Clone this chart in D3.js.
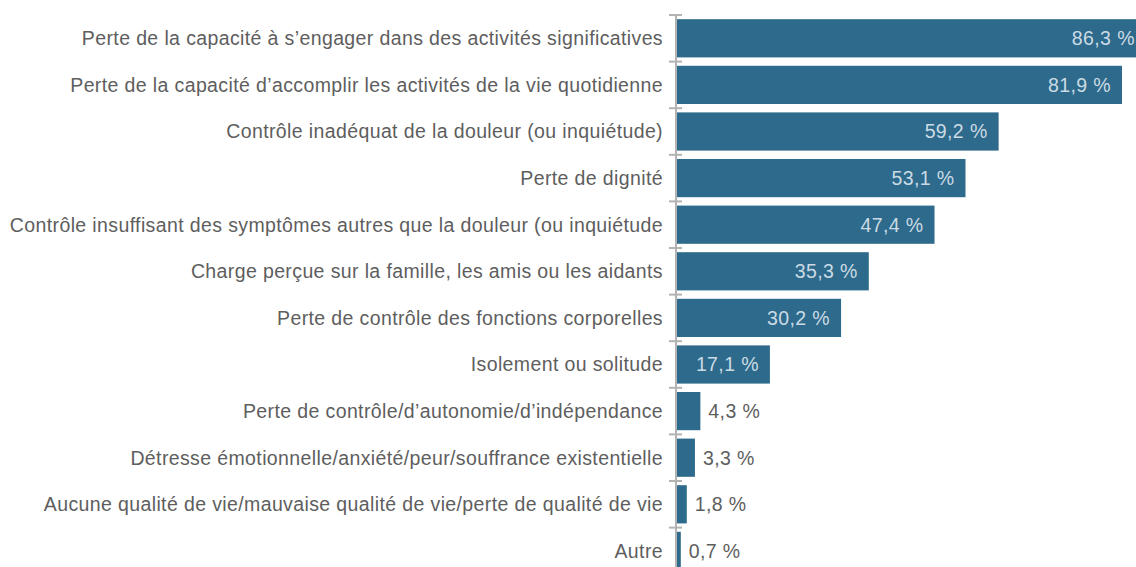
<!DOCTYPE html>
<meta charset="utf-8">
<head>
<style>
  body { margin: 0; background: #fff; }
  svg { display: block; }
  .label, .value { font-family: "Liberation Sans", Arial, sans-serif; font-size: 19.5px; letter-spacing: 0.38px; }
  .label { fill: #5e5e5e; }
</style>
</head>
<body>
<script src="https://d3js.org/d3.v7.min.js"></script>
<script>
// categories and values (%), top to bottom
var categories = [
  "Perte de la capacité à s’engager dans des activités significatives",
  "Perte de la capacité d’accomplir les activités de la vie quotidienne",
  "Contrôle inadéquat de la douleur (ou inquiétude)",
  "Perte de dignité",
  "Contrôle insuffisant des symptômes autres que la douleur (ou inquiétude",
  "Charge perçue sur la famille, les amis ou les aidants",
  "Perte de contrôle des fonctions corporelles",
  "Isolement ou solitude",
  "Perte de contrôle/d’autonomie/d’indépendance",
  "Détresse émotionnelle/anxiété/peur/souffrance existentielle",
  "Aucune qualité de vie/mauvaise qualité de vie/perte de qualité de vie",
  "Autre"
];
var values = [86.3, 81.9, 59.2, 53.1, 47.4, 35.3, 30.2, 17.1, 4.3, 3.3, 1.8, 0.7];

var W = 1136, H = 567;
var x0 = 677, topY = 15, step = 46.6;

var svg = d3.select("body").append("svg")
    .attr("width", W)
    .attr("height", H);

var x = d3.scaleLinear().domain([0, 100]).range([x0, x0 + 543.3]);
var y = d3.scaleBand()
    .domain(categories)
    .range([topY, topY + step * categories.length])
    .paddingInner(0.18)
    .paddingOuter(0.09);

var fmt = function(v) { return d3.format(".1f")(v).replace(".", ",") + " %"; };

// bars
svg.append("g").selectAll("rect")
    .data(values)
    .enter().append("rect")
    .attr("x", x(0))
    .attr("y", function(d, i) { return y(categories[i]); })
    .attr("width", function(d) { return x(d) - x(0); })
    .attr("height", y.bandwidth())
    .attr("fill", "#2e6a8b");

// axis line + ticks at band boundaries
var axis = svg.append("g").attr("stroke", "#b3b3b3").attr("stroke-width", 2);
axis.append("line")
    .attr("x1", x(0) - 1).attr("x2", x(0) - 1)
    .attr("y1", topY).attr("y2", H);
var bounds = d3.range(categories.length + 1).map(function(i) { return topY + i * step; });
axis.selectAll("line.tick")
    .data(bounds)
    .enter().append("line")
    .attr("class", "tick")
    .attr("x1", x(0) - 8).attr("x2", x(0) + 5)
    .attr("y1", function(d) { return d; })
    .attr("y2", function(d) { return d; });

// category labels
svg.append("g").selectAll("text")
    .data(categories)
    .enter().append("text")
    .attr("class", "label")
    .attr("x", x(0) - 14)
    .attr("y", function(d) { return y(d) + y.bandwidth() / 2; })
    .attr("dy", "0.35em")
    .attr("text-anchor", "end")
    .text(function(d) { return d; });

// value labels
svg.append("g").selectAll("text")
    .data(values)
    .enter().append("text")
    .attr("class", "value")
    .attr("y", function(d, i) { return y(categories[i]) + y.bandwidth() / 2; })
    .attr("dy", "0.35em")
    .attr("x", function(d) { return d > 10 ? x(d) - 11 : x(d) + 8; })
    .attr("text-anchor", function(d) { return d > 10 ? "end" : "start"; })
    .attr("fill", function(d) { return d > 10 ? "#cbdbe5" : "#5e5e5e"; })
    .text(fmt);
</script>
</body>
